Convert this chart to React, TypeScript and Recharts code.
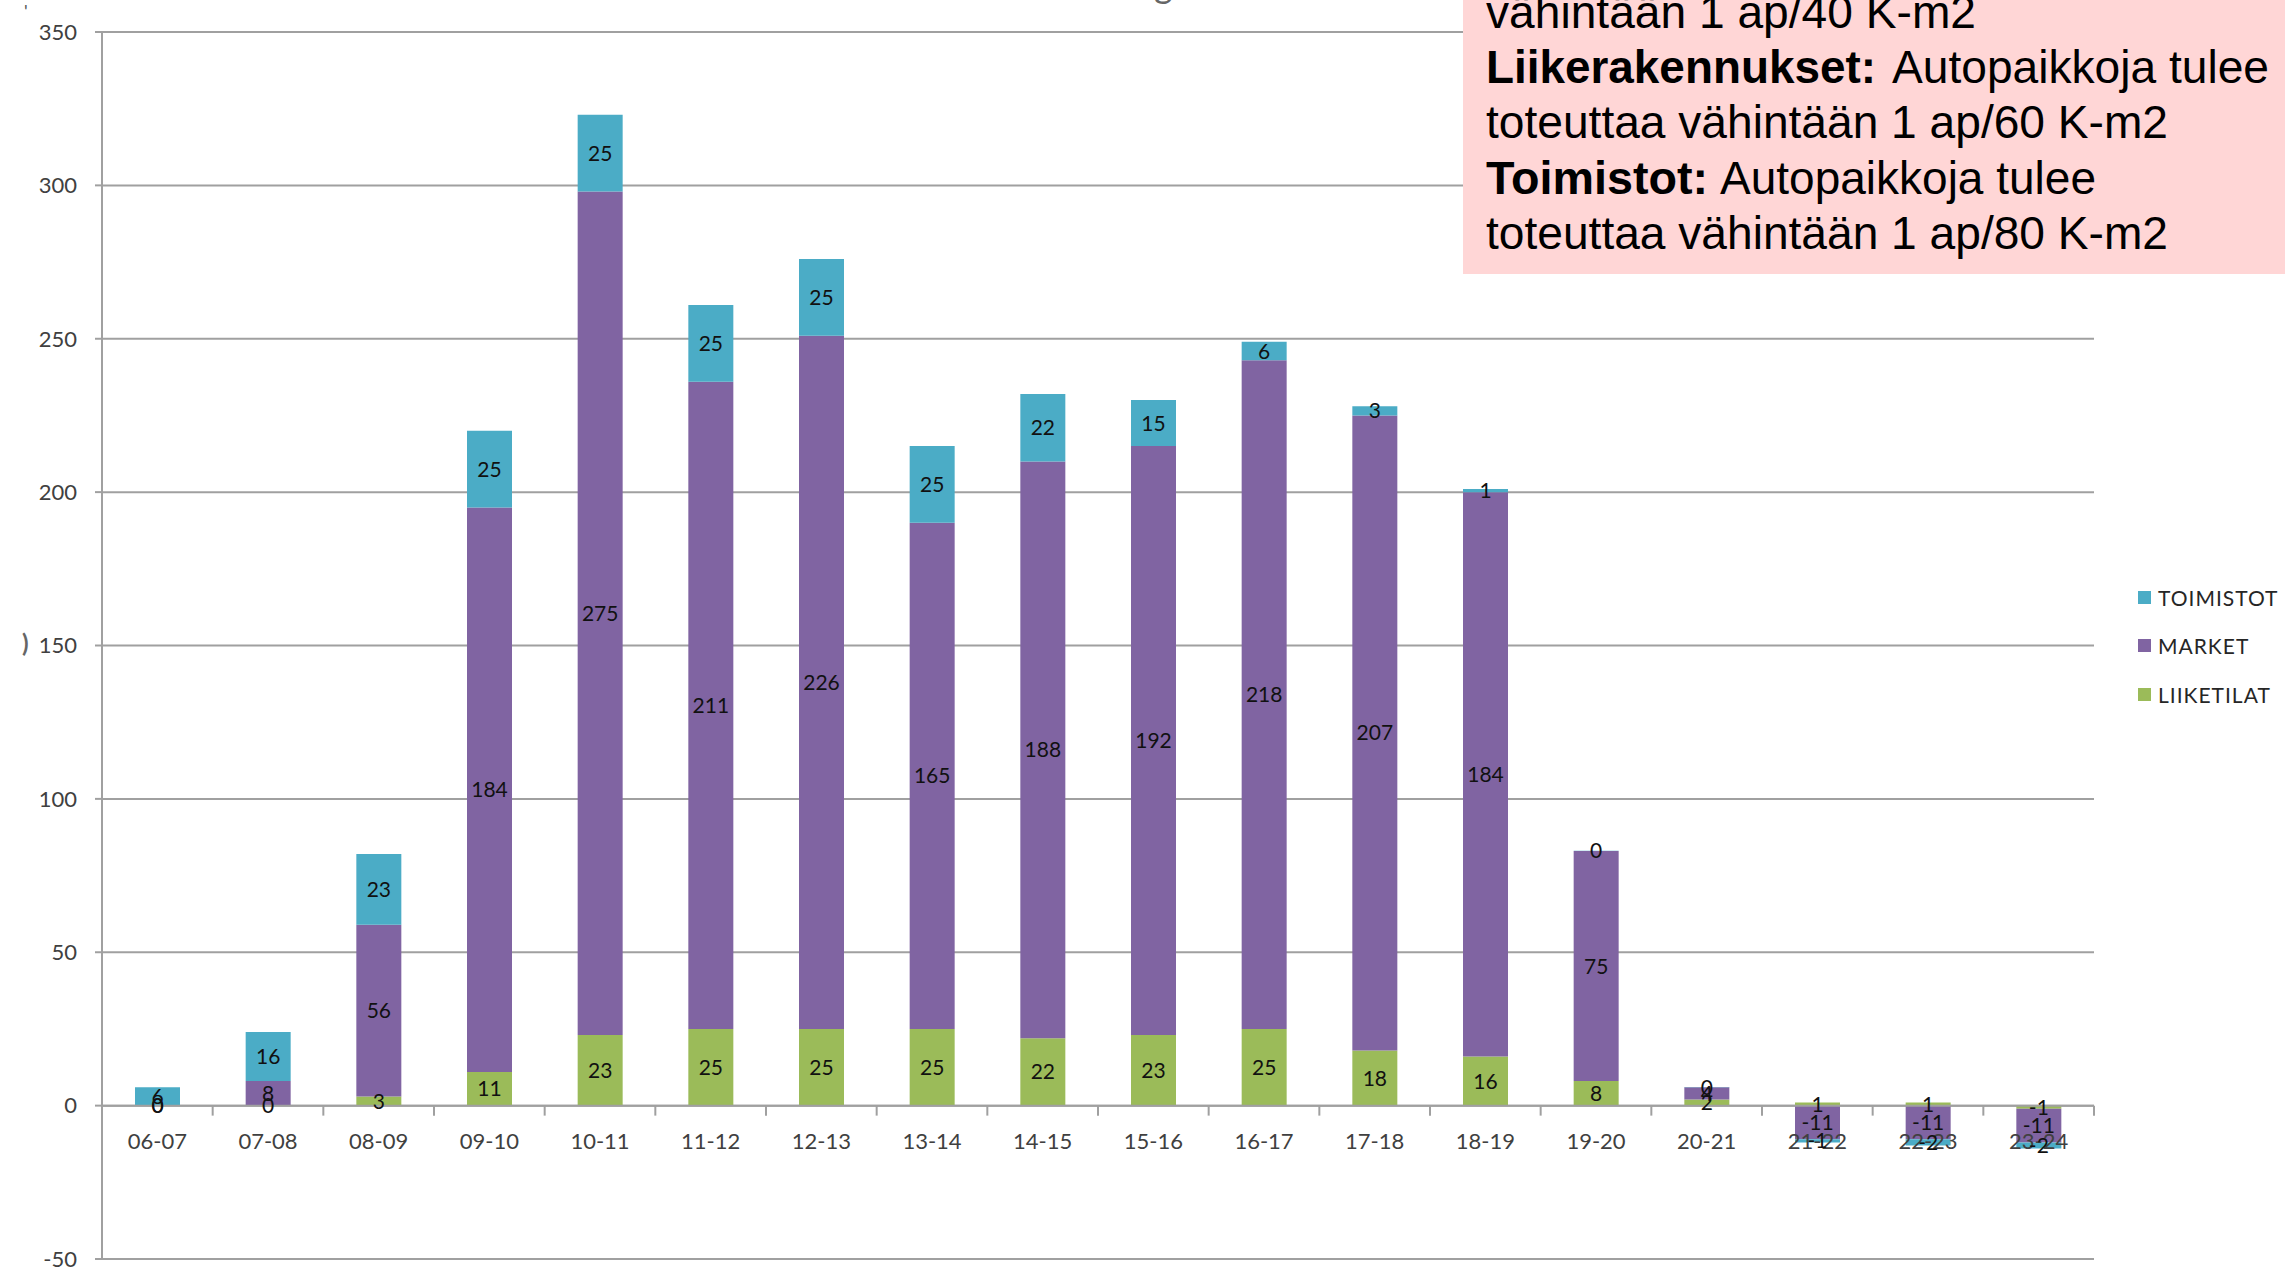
import React from 'react';
import { BarChart, Bar, XAxis, YAxis, CartesianGrid, ReferenceLine, LabelList } from 'recharts';

const categories = ['06-07', '07-08', '08-09', '09-10', '10-11', '11-12', '12-13', '13-14', '14-15', '15-16', '16-17', '17-18', '18-19', '19-20', '20-21', '21-22', '22-23', '23-24'];
const liiketilat = [0, 0, 3, 11, 23, 25, 25, 25, 22, 23, 25, 18, 16, 8, 2, 1, 1, -1];
const market = [0, 8, 56, 184, 275, 211, 226, 165, 188, 192, 218, 207, 184, 75, 4, -11, -11, -11];
const toimistot = [6, 16, 23, 25, 25, 25, 25, 25, 22, 15, 6, 3, 1, 0, 0, -1, -2, -2];
const yTicks = [-50, 0, 50, 100, 150, 200, 250, 300, 350];

// stacking order bottom -> top
const series = [
    { key: 'liiketilat', name: 'LIIKETILAT', color: '#9BBB59', values: liiketilat },
    { key: 'market', name: 'MARKET', color: '#8064A2', values: market },
    { key: 'toimistot', name: 'TOIMISTOT', color: '#4BACC6', values: toimistot },
];

const data = categories.map((cat, i) => ({
    cat,
    liiketilat: liiketilat[i],
    market: market[i],
    toimistot: toimistot[i],
}));

const W = 2285;
const H = 1269;
const M = { top: 32, right: 191, bottom: 1, left: 0 };
const Y_W = 102;
const X_H = 9;
const plotH = H - M.top - M.bottom - X_H;
const plotW = W - M.left - M.right - Y_W;
const band = plotW / categories.length;
const zeroY = M.top + (plotH * 350) / 400;

const FONT = 'Lato, "Open Sans", sans-serif';
const AXIS = '#a0a0a0';
const TEXT = '#404040';

const CatTick = (props: any) => {
    const { x, payload } = props;
    return (
        <g>
            <line x1={x + band / 2} x2={x + band / 2} y1={zeroY} y2={zeroY + 10} stroke={AXIS} strokeWidth={2} />
            <text x={x} y={zeroY + 43} textAnchor="middle" fontSize={22} fill={TEXT} fontFamily={FONT}>
                {payload.value}
            </text>
        </g>
    );
};

// draws the value in the middle of its segment
const SegLabel = (p: any) => {
    const vb = p.viewBox || p;
    const { x, y, width, height } = vb;
    if (p.value == null || x == null) return null;
    return (
        <text x={x + width / 2} y={y + height / 2} dy="0.36em" textAnchor="middle" fontSize={21} fill="#111" fontFamily={FONT}>
            {p.value}
        </text>
    );
};

// zero segments get a hair-thin rect so that their "0" label is still drawn
const zeroMin = (values: number[]) => (_v: any, i: number) => (values[i] === 0 ? 0.2 : 0);

const NOTE_FONT = '"Liberation Sans Narrow", "Liberation Sans", Arial, sans-serif';

const NoteBox = () => (
    <svg width={W} height={H} style={{ position: 'absolute', left: 0, top: 0, pointerEvents: 'none' }}>
        <text x={22} y={652} fontSize={24} fill="#666" fontFamily={FONT} fontWeight={700}>)</text>
        <text x={24} y={18} fontSize={18} fill="#555" fontFamily={FONT}>'</text>
        <text x={1154} y={-2} fontSize={36} fill="#666" fontFamily={FONT}>g</text>
        <rect x={1463} y={0} width={W - 1463} height={274} fill="#FFD6D6" />
        <g fontFamily={NOTE_FONT} fontSize={46} fill="#000">
            <text x={1486} y={28} textLength={490} lengthAdjust="spacingAndGlyphs">vähintään 1 ap/40 K-m2</text>
            <text x={1486} y={83} textLength={390} lengthAdjust="spacingAndGlyphs" fontWeight={700}>Liikerakennukset:</text>
            <text x={1892} y={83} textLength={377} lengthAdjust="spacingAndGlyphs">Autopaikkoja tulee</text>
            <text x={1486} y={138} textLength={682} lengthAdjust="spacingAndGlyphs">toteuttaa vähintään 1 ap/60 K-m2</text>
            <text x={1486} y={194} textLength={222} lengthAdjust="spacingAndGlyphs" fontWeight={700}>Toimistot:</text>
            <text x={1720} y={194} textLength={376} lengthAdjust="spacingAndGlyphs">Autopaikkoja tulee</text>
            <text x={1486} y={249} textLength={682} lengthAdjust="spacingAndGlyphs">toteuttaa vähintään 1 ap/80 K-m2</text>
        </g>
    </svg>
);

const LegendBox = () => (
    <div style={{ position: 'absolute', left: 2138, top: 573, fontFamily: FONT }}>
        {[...series].reverse().map((s) => (
            <div key={s.key} style={{ display: 'flex', alignItems: 'center', height: 48.5 }}>
                <span style={{ width: 13, height: 13, background: s.color, display: 'inline-block', marginRight: 7 }} />
                <span style={{ fontSize: 21, color: '#262626', letterSpacing: 1 }}>{s.name}</span>
            </div>
        ))}
    </div>
);

export default function App() {
    return (
        <div style={{ position: 'absolute', left: 0, top: 0, width: W, height: H, background: '#fff', overflow: 'hidden' }}>
            <BarChart width={W} height={H} data={data} margin={M} stackOffset="sign" barSize={45}>
                <CartesianGrid vertical={false} stroke={AXIS} strokeWidth={2} />
                <XAxis
                    dataKey="cat"
                    height={X_H}
                    axisLine={false}
                    tickLine={false}
                    interval={0}
                    tick={(p: any) => <CatTick {...p} />}
                />
                <YAxis
                    width={Y_W}
                    type="number"
                    domain={[-50, 350]}
                    ticks={yTicks}
                    interval={0}
                    tickSize={7}
                    tickMargin={18}
                    axisLine={{ stroke: AXIS, strokeWidth: 2 }}
                    tickLine={{ stroke: AXIS, strokeWidth: 2 }}
                    tick={{ fontSize: 22, fill: TEXT, fontFamily: FONT }}
                />
                {series.map((s) => (
                    <Bar
                        key={s.key}
                        dataKey={s.key}
                        name={s.name}
                        stackId="a"
                        fill={s.color}
                        minPointSize={zeroMin(s.values)}
                        isAnimationActive={false}
                    >
                        <LabelList dataKey={s.key} content={SegLabel} />
                    </Bar>
                ))}
                <ReferenceLine y={0} stroke={AXIS} strokeWidth={2} />
            </BarChart>
            <LegendBox />
            <NoteBox />
        </div>
    );
}
